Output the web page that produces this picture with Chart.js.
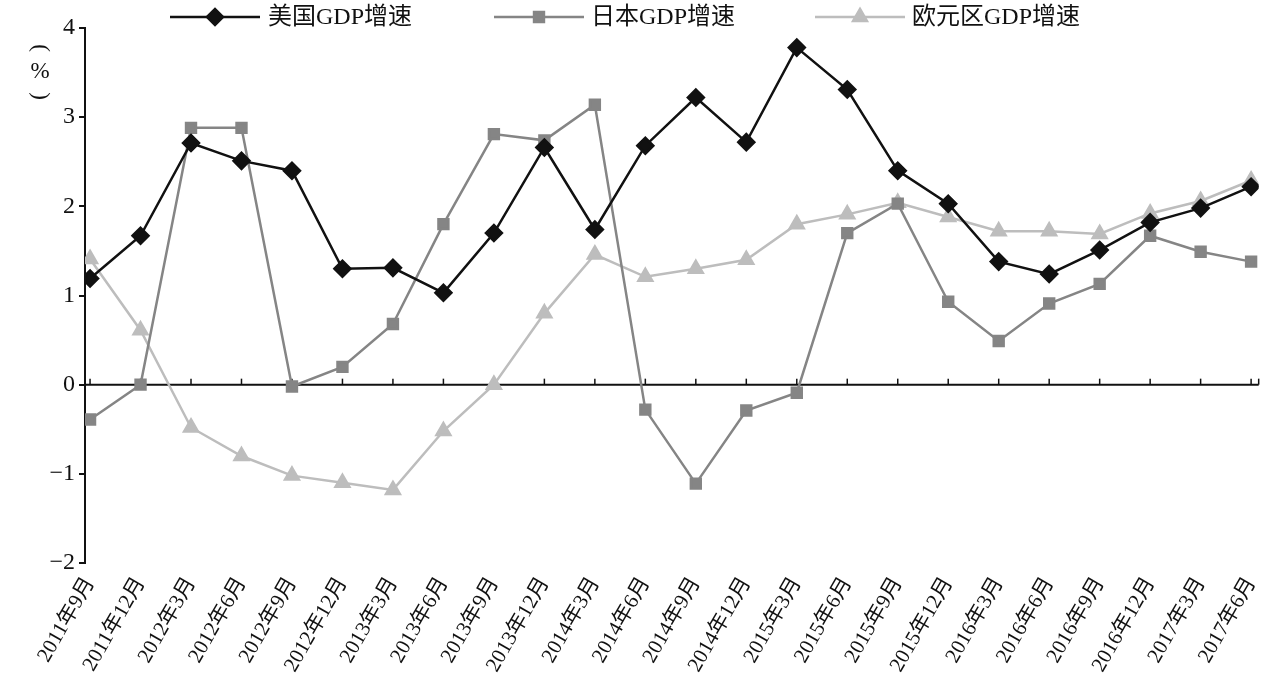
<!DOCTYPE html>
<html><head><meta charset="utf-8">
<script src="https://cdn.jsdelivr.net/npm/chart.js@4"></script>
<style>html,body{margin:0;padding:0;background:#fff}#w{width:1275px;height:696px}</style>
</head><body><div id="w"><canvas id="c"></canvas></div>
<script>
const categories=["2011年9月","2011年12月","2012年3月","2012年6月","2012年9月","2012年12月","2013年3月","2013年6月","2013年9月","2013年12月","2014年3月","2014年6月","2014年9月","2014年12月","2015年3月","2015年6月","2015年9月","2015年12月","2016年3月","2016年6月","2016年9月","2016年12月","2017年3月","2017年6月"];
const usGrowth=[1.19,1.67,2.71,2.51,2.40,1.30,1.31,1.03,1.70,2.66,1.74,2.68,3.22,2.72,3.78,3.31,2.40,2.03,1.38,1.24,1.51,1.82,1.98,2.22];
const japanGrowth=[-0.39,0,2.88,2.88,-0.02,0.20,0.68,1.80,2.81,2.74,3.14,-0.28,-1.11,-0.29,-0.09,1.70,2.03,0.93,0.49,0.91,1.13,1.67,1.49,1.38];
const euroGrowth=[1.41,0.61,-0.48,-0.80,-1.02,-1.10,-1.18,-0.52,0,0.80,1.46,1.21,1.30,1.40,1.80,1.91,2.04,1.88,1.72,1.72,1.69,1.92,2.06,2.29];
const yTicks=[-2,-1,0,1,2,3,4];
const seriesNames=["美国GDP增速","日本GDP增速","欧元区GDP增速"];
const FONT='"Liberation Serif","Noto Sans CJK SC",serif';
const styles=[{c:'#111111',p:'rectRot',r:8},{c:'#858585',p:'rect',r:7},{c:'#bdbdbd',p:'triangle',r:8}];
const data=[usGrowth,japanGrowth,euroGrowth];
const extras={id:'extras',
 beforeDatasetsDraw(ch){const ctx=ch.ctx,x=ch.scales.x,y=ch.scales.y,z=y.getPixelForValue(0);
  ctx.save();ctx.strokeStyle='#111';ctx.lineWidth=2;
  ctx.beginPath();ctx.moveTo(ch.chartArea.left,z);ctx.lineTo(ch.chartArea.right,z);ctx.stroke();
  ctx.lineWidth=1.5;
  categories.forEach((_,i)=>{const px=x.getPixelForValue(i);ctx.beginPath();ctx.moveTo(px,z);ctx.lineTo(px,z-6);ctx.stroke();});
  ctx.beginPath();ctx.moveTo(ch.chartArea.right,z);ctx.lineTo(ch.chartArea.right,z-6);ctx.stroke();
  ctx.restore();},
 afterDraw(ch){const ctx=ch.ctx;ctx.save();
  ctx.fillStyle='#111';ctx.font='23px '+FONT;ctx.textAlign='center';ctx.textBaseline='middle';
  ctx.save();ctx.translate(40,48);ctx.rotate(Math.PI/2);ctx.fillText('(',0,0);ctx.restore();
  ctx.fillText('%',40,72);
  ctx.save();ctx.translate(40,96);ctx.rotate(Math.PI/2);ctx.fillText(')',0,0);ctx.restore();
  const pos=[[170,268],[494,591],[815,912]];
  pos.forEach((p,i)=>{const s=styles[i];ctx.strokeStyle=s.c;ctx.lineWidth=2.5;
   ctx.beginPath();ctx.moveTo(p[0],17);ctx.lineTo(p[0]+90,17);ctx.stroke();
   ctx.fillStyle=s.c;Chart.helpers.drawPoint(ctx,{pointStyle:s.p,radius:s.r,borderWidth:1},p[0]+45,17);
   ctx.fillStyle='#111';ctx.textAlign='left';ctx.font='24px '+FONT;ctx.fillText(seriesNames[i],p[1],18);});
  ctx.restore();}};
new Chart(document.getElementById('c'),{type:'line',
 data:{datasets:data.map((d,i)=>({label:seriesNames[i],data:d.map((v,j)=>({x:j,y:v})),borderColor:styles[i].c,backgroundColor:styles[i].c,borderWidth:2.5,pointStyle:styles[i].p,pointRadius:styles[i].r,pointHoverRadius:styles[i].r,tension:0}))},
 options:{responsive:true,maintainAspectRatio:false,animation:false,
  layout:{padding:{top:28,right:5,left:0,bottom:0}},
  plugins:{legend:{display:false},tooltip:{enabled:false}},
  scales:{
   x:{type:'linear',min:-0.1,max:23.15,border:{display:false},grid:{display:false},
    afterBuildTicks(s){s.ticks=categories.map((_,i)=>({value:i}));},
    ticks:{color:'#111',font:{family:FONT,size:21},minRotation:60,maxRotation:60,autoSkip:false,padding:2,callback:v=>categories[v]},
    afterFit(s){s.height=133;}},
   y:{min:-2,max:4,afterBuildTicks(s){s.ticks=yTicks.map(v=>({value:v}));},
    border:{display:true,color:'#111',width:2},
    grid:{drawOnChartArea:false,tickLength:6,color:'#111',lineWidth:2},
    ticks:{color:'#111',font:{family:FONT,size:24},padding:4,callback:v=>v<0?'−'+Math.abs(v):v},
    afterFit(s){s.width=85;}}}},
 plugins:[extras]});
</script></body></html>
